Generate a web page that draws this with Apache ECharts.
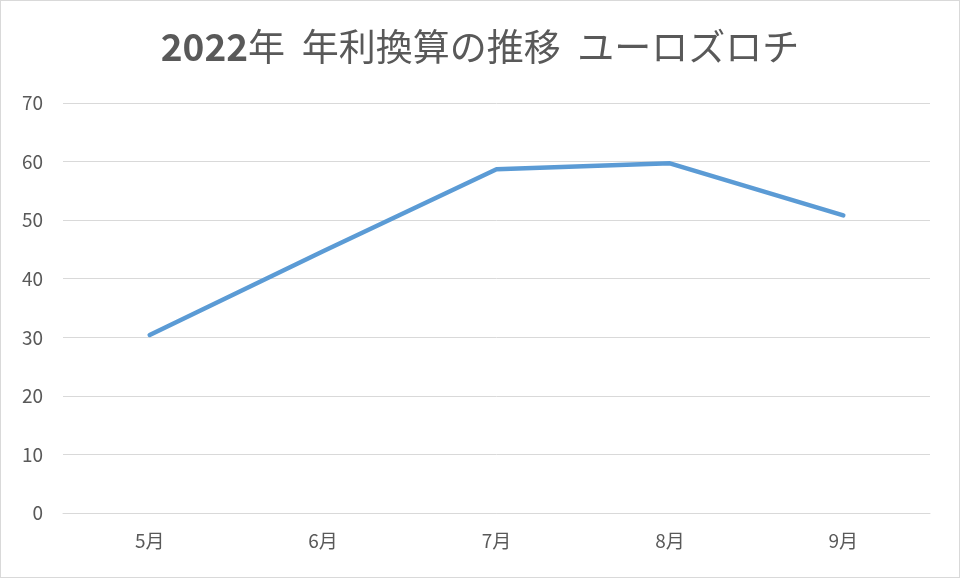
<!DOCTYPE html>
<html>
<head>
<meta charset="utf-8">
<script src="https://cdn.jsdelivr.net/npm/echarts@6/dist/echarts.min.js"></script>
<style>
html,body{margin:0;padding:0;background:#fff;}
#c{width:958px;height:576px;border:1px solid #d9d9d9;}
</style>
</head>
<body>
<div id="c"></div>
<script>
const titleText = '{b|2022}年  年利換算の推移  ユーロズロチ';
const categories = ['5月', '6月', '7月', '8月', '9月'];
const values = [30.4, 44.7, 58.7, 59.7, 50.8];
const yMin = 0, yMax = 70, yStep = 10;

const chart = echarts.init(document.getElementById('c'));
const font = '"Noto Sans CJK JP", "Noto Sans", sans-serif';
chart.setOption({
  animation: false,
  title: {
    text: titleText,
    left: 'center',
    top: 22,
    textStyle: {
      fontFamily: font, fontSize: 37, fontWeight: 'normal', color: '#595959',
      rich: { b: { fontFamily: font, fontSize: 37, fontWeight: 'bold', color: '#595959' } }
    }
  },
  grid: { left: 62, right: 29, top: 102, bottom: 64 },
  xAxis: {
    type: 'category',
    data: categories,
    boundaryGap: true,
    axisLine: { show: true, lineStyle: { color: '#d9d9d9', width: 1 } },
    axisTick: { show: false },
    axisLabel: { color: '#595959', fontSize: 19, fontFamily: font, margin: 18 }
  },
  yAxis: {
    type: 'value',
    min: yMin, max: yMax, interval: yStep,
    axisLine: { show: false },
    axisTick: { show: false },
    axisLabel: { color: '#595959', fontSize: 19, fontFamily: font, margin: 20 },
    splitLine: { lineStyle: { color: '#d9d9d9', width: 1 } }
  },
  series: [{
    type: 'line',
    data: values,
    symbol: 'none',
    lineStyle: { color: '#5b9bd5', width: 4.5, cap: 'round', join: 'round' }
  }]
});
</script>
</body>
</html>
